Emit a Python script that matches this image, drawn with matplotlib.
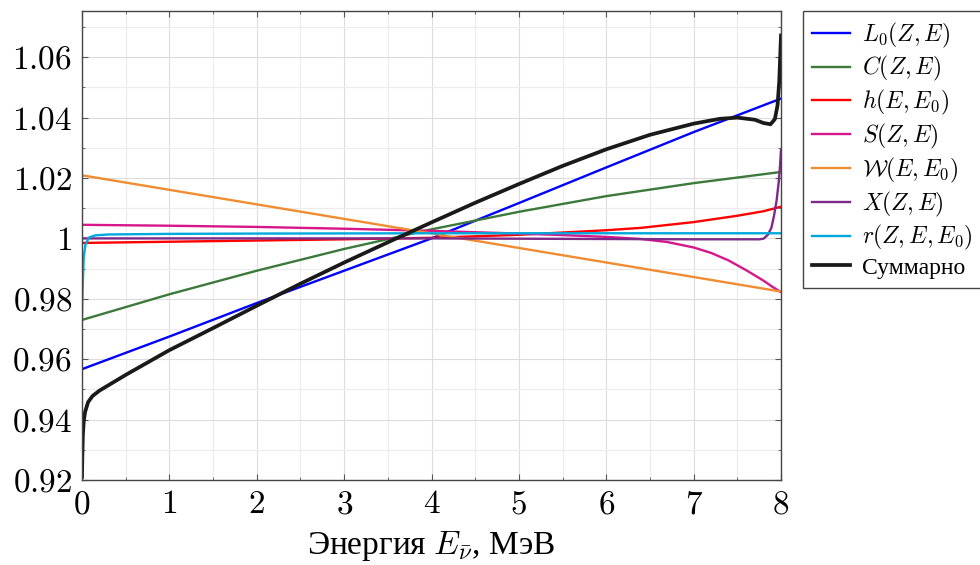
import matplotlib
matplotlib.use("Agg")
import matplotlib.pyplot as plt
from matplotlib.ticker import MultipleLocator, FuncFormatter

plt.rcParams['font.family'] = ['Liberation Serif', 'DejaVu Serif']
plt.rcParams['mathtext.fontset'] = 'cm'

# energy grid / values
E_L0 = [0, 1, 2, 3, 4, 5, 6, 7, 8]
L0 = [0.9567, 0.9675, 0.9786, 0.9893, 1.0, 1.0117, 1.0235, 1.0352, 1.0463]

E_C = [0, 1, 2, 3, 4, 5, 6, 7, 8]
C = [0.973, 0.9815, 0.9893, 0.9965, 1.0030, 1.0088, 1.0140, 1.0183, 1.0220]

E_h = [0, 1, 2, 3, 4, 5, 6, 6.4, 7, 7.5, 7.8, 8]
h = [0.9985, 0.9989, 0.9993, 0.9997, 1.0002, 1.0012, 1.0027, 1.0035, 1.0054, 1.0075, 1.0090, 1.0105]

E_S = [0, 1, 2, 3, 4, 5, 5.5, 6, 6.4, 6.7, 7, 7.2, 7.4, 7.6, 7.8, 7.9, 8]
S = [1.0045, 1.0042, 1.0038, 1.0032, 1.0025, 1.0016, 1.0011, 1.0005, 0.9998, 0.9988, 0.9970,
     0.9952, 0.9927, 0.9895, 0.9860, 0.9840, 0.9822]

E_W = [0, 8]
W = [1.0209, 0.9824]

E_X = [0, 2, 4, 6, 7, 7.5, 7.75, 7.8, 7.85, 7.89, 7.92, 7.95, 7.975, 7.99, 8]
X = [1.0, 1.0, 1.0, 0.9998, 0.9997, 0.9997, 0.9997, 0.9999, 1.0012, 1.0035, 1.0075, 1.0126,
     1.0190, 1.0245, 1.0292]

E_r = [0, 0.005, 0.01, 0.02, 0.04, 0.08, 0.15, 0.3, 1, 2, 4, 6, 8]
r = [0.9744, 0.981, 0.986, 0.994, 0.998, 1.0003, 1.0010, 1.0013, 1.0015, 1.0016, 1.0017, 1.0017, 1.0017]

E_tot = [0, 0.004, 0.01, 0.02, 0.035, 0.07, 0.12, 0.2, 0.35, 0.5, 1, 1.5, 2, 2.5, 3, 3.5, 4,
         4.5, 5, 5.5, 6, 6.5, 7, 7.3, 7.5, 7.7, 7.8, 7.88, 7.93, 7.96, 7.98, 8]
tot = [0.921, 0.928, 0.935, 0.9395, 0.9425, 0.9458, 0.9478, 0.9496, 0.9522, 0.9548, 0.9630,
       0.9703, 0.9777, 0.9850, 0.9920, 0.9987, 1.0053, 1.0118, 1.0180, 1.0240, 1.0295, 1.0343,
       1.0380, 1.0396, 1.0400, 1.0393, 1.0382, 1.0378, 1.0395, 1.0440, 1.0520, 1.0672]

series = [
    (E_L0, L0, '#0000ff', r'$L_0(Z,E)$'),
    (E_C, C, '#3b7a3b', r'$C(Z,E)$'),
    (E_h, h, '#ff0000', r'$h(E,E_0)$'),
    (E_S, S, '#d6168a', r'$S(Z,E)$'),
    (E_W, W, '#f08c32', r'$\mathcal{W}(E,E_0)$'),
    (E_X, X, '#7d2a88', r'$X(Z,E)$'),
    (E_r, r, '#00a9dd', r'$r(Z,E,E_0)$'),
]

fig = plt.figure(figsize=(9.8, 5.65), dpi=100)
ax = fig.add_axes([82/980, 1 - 480/565, (781-82)/980, (480-11)/565])

for xs, ys, col, lab in series:
    ax.plot(xs, ys, color=col, lw=1.7, label=lab)
ax.plot(E_tot, tot, color='#1a1a1a', lw=2.7, label='Суммарно')

ax.set_xlim(0, 8)
ax.set_ylim(0.92, 1.0753)
ax.xaxis.set_major_locator(MultipleLocator(1))
ax.xaxis.set_minor_locator(MultipleLocator(0.5))
ax.yaxis.set_major_locator(MultipleLocator(0.02))
ax.yaxis.set_minor_locator(MultipleLocator(0.01))
fmt = FuncFormatter(lambda v, p: '$%g$' % round(v, 4))
ax.xaxis.set_major_formatter(fmt)
ax.yaxis.set_major_formatter(fmt)
ax.tick_params(which='both', direction='in', top=True, right=True, color='#555555', labelsize=24)
ax.tick_params(which='major', length=4, pad=7)
ax.tick_params(which='minor', length=2.5)
ax.grid(which='major', color='#dcdcdc', lw=0.8)
ax.grid(which='minor', color='#ececec', lw=0.8)
ax.set_axisbelow(True)
for s in ax.spines.values():
    s.set_color('#444444')
    s.set_linewidth(1.0)

ax.set_xlabel(r'Энергия $E_{\bar{\nu}}$, МэВ', fontsize=24, labelpad=6)

leg = ax.legend(loc='upper left', bbox_to_anchor=(803/980, 1 - 11/565), bbox_transform=fig.transFigure,
                fontsize=17, fancybox=False, framealpha=1, edgecolor='#444444', borderaxespad=0,
                handlelength=1.6, labelspacing=0.2, handletextpad=0.5, borderpad=0.4)
leg.get_frame().set_linewidth(1.0)

fig.savefig('out.png', dpi=100)
